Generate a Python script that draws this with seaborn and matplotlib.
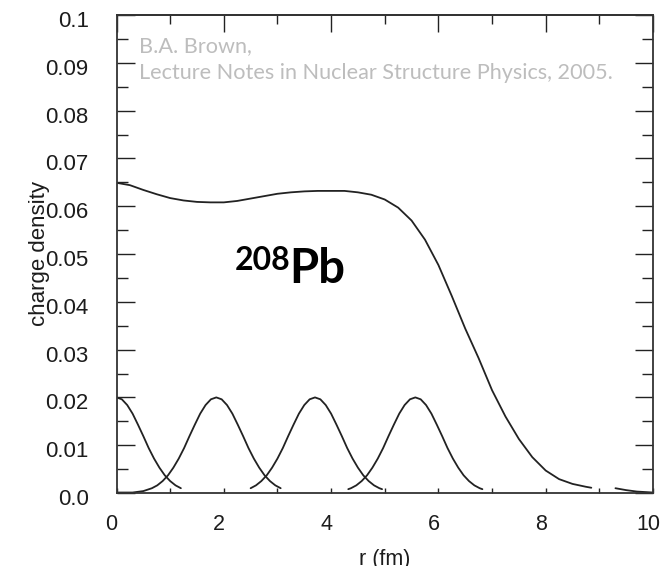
import pandas as pd
import matplotlib
matplotlib.use("Agg")
import matplotlib.pyplot as plt
from matplotlib.ticker import MultipleLocator
from matplotlib.transforms import ScaledTranslation
import seaborn as sns

# Total charge density of 208Pb (e/fm^3) versus radius r (fm)
r_total = [0.0, 0.25, 0.5, 0.75, 1.0, 1.25, 1.5, 1.75, 2.0, 2.25, 2.5, 2.75,
           3.0, 3.25, 3.5, 3.75, 4.0, 4.25, 4.5, 4.75, 5.0, 5.25, 5.5, 5.75,
           6.0, 6.25, 6.5, 6.75, 7.0, 7.25, 7.5, 7.75, 8.0, 8.25, 8.5, 8.75, 8.85]
rho_total = [0.0649, 0.0644, 0.0634, 0.0625, 0.0617, 0.0612, 0.0609, 0.0608,
             0.0608, 0.0611, 0.0616, 0.0621, 0.0626, 0.0629, 0.0631, 0.0632,
             0.0632, 0.0632, 0.0629, 0.0624, 0.0614, 0.0597, 0.0570, 0.0530,
             0.0477, 0.0412, 0.0344, 0.0282, 0.0215, 0.0160, 0.0113, 0.0075,
             0.0047, 0.0029, 0.0019, 0.0013, 0.0011]

# Outer tail of the total density
r_tail = [9.3, 9.5, 9.7, 10.0]
rho_tail = [0.0010, 0.0006, 0.0003, 0.0001]

# Contributions of individual s-shells
r_s1 = [0.0, 0.1, 0.2, 0.3, 0.4, 0.5, 0.6, 0.7, 0.8, 0.9, 1.0, 1.1, 1.2]
rho_s1 = [0.0200, 0.0196, 0.0184, 0.0166, 0.0143, 0.0119, 0.0094, 0.0072,
          0.0053, 0.0037, 0.0025, 0.0016, 0.0010]

r_s2 = [0.0, 0.3, 0.5, 0.66, 0.76, 0.86, 0.96, 1.06, 1.16, 1.26, 1.36, 1.46,
        1.56, 1.66, 1.76, 1.86, 1.96, 2.06, 2.16, 2.26, 2.36, 2.46, 2.56,
        2.66, 2.76, 2.86, 2.96, 3.06]
rho_s2 = [0.0001, 0.0001, 0.0004, 0.0010, 0.0016, 0.0025, 0.0037, 0.0053,
          0.0072, 0.0094, 0.0119, 0.0143, 0.0166, 0.0184, 0.0196, 0.0200,
          0.0196, 0.0184, 0.0166, 0.0143, 0.0119, 0.0094, 0.0072, 0.0053,
          0.0037, 0.0025, 0.0016, 0.0010]

r_s3 = [2.50, 2.60, 2.70, 2.80, 2.90, 3.00, 3.10, 3.20, 3.30, 3.40, 3.50,
        3.60, 3.70, 3.80, 3.90, 4.00, 4.10, 4.20, 4.30, 4.40, 4.50, 4.60,
        4.70, 4.80, 4.90, 4.95]
rho_s3 = [0.0010, 0.0016, 0.0025, 0.0037, 0.0053, 0.0072, 0.0094, 0.0119,
          0.0143, 0.0166, 0.0184, 0.0196, 0.0200, 0.0196, 0.0184, 0.0166,
          0.0143, 0.0119, 0.0094, 0.0072, 0.0053, 0.0037, 0.0025, 0.0016,
          0.0010, 0.0008]

r_s4 = [4.32, 4.37, 4.47, 4.57, 4.67, 4.77, 4.87, 4.97, 5.07, 5.17, 5.27,
        5.37, 5.47, 5.57, 5.67, 5.77, 5.87, 5.97, 6.07, 6.17, 6.27, 6.37,
        6.47, 6.57, 6.67, 6.77, 6.82]
rho_s4 = [0.0008, 0.0010, 0.0016, 0.0025, 0.0037, 0.0053, 0.0072, 0.0094,
          0.0119, 0.0143, 0.0166, 0.0184, 0.0196, 0.0200, 0.0196, 0.0184,
          0.0166, 0.0143, 0.0119, 0.0094, 0.0072, 0.0053, 0.0037, 0.0025,
          0.0016, 0.0010, 0.0008]

x_ticks = [0, 2, 4, 6, 8, 10]
x_tick_labels = ["0", "2", "4", "6", "8", "10"]
y_ticks = [0.0, 0.01, 0.02, 0.03, 0.04, 0.05, 0.06, 0.07, 0.08, 0.09, 0.1]
y_tick_labels = ["0.0", "0.01", "0.02", "0.03", "0.04", "0.05", "0.06",
                 "0.07", "0.08", "0.09", "0.1"]

curves = [("total", r_total, rho_total), ("tail", r_tail, rho_tail),
          ("1s", r_s1, rho_s1), ("2s", r_s2, rho_s2),
          ("3s", r_s3, rho_s3), ("4s", r_s4, rho_s4)]
df = pd.concat([pd.DataFrame({"r": r, "rho": rho, "curve": name})
                for name, r, rho in curves], ignore_index=True)

sns.set_style("ticks")
plt.rcParams["font.family"] = ["Liberation Sans", "DejaVu Sans"]

fig = plt.figure(figsize=(6.72, 5.66), dpi=100)
ax = fig.add_axes([116.5 / 672, 73 / 566, 536.5 / 672, 478 / 566])

sns.lineplot(data=df, x="r", y="rho", units="curve", estimator=None,
             sort=False, color="#222222", linewidth=1.3, ax=ax, legend=False)

ax.set_xlim(0, 10)
ax.set_ylim(0, 0.1)

for s in ax.spines.values():
    s.set_color("#333333")
    s.set_linewidth(1.3)

ink = "#1c1c1c"
ax.set_xticks(x_ticks, x_tick_labels)
ax.xaxis.set_minor_locator(MultipleLocator(1))
ax.set_yticks(y_ticks, y_tick_labels)
ax.yaxis.set_minor_locator(MultipleLocator(0.005))

ax.tick_params(axis="x", which="both", direction="in", length=3.6, width=1,
               color="#222222", top=False, pad=15, labelsize=15.5,
               labelcolor=ink)
ax.tick_params(axis="y", which="major", direction="in", length=13, width=1,
               color="#222222", left=True, right=True, pad=20, labelsize=16,
               labelcolor=ink)
ax.tick_params(axis="y", which="minor", direction="in", length=7.8, width=1,
               color="#222222", left=True, right=True)

top = ax.secondary_xaxis("top")
top.set_xticks(x_ticks)
top.xaxis.set_minor_locator(MultipleLocator(1))
top.tick_params(which="major", direction="in", length=12.2, width=1,
                color="#222222", labeltop=False)
top.tick_params(which="minor", direction="in", length=6.5, width=1,
                color="#222222")
top.spines["top"].set_color("#333333")
top.spines["top"].set_linewidth(1.3)

for lbl in ax.get_xticklabels():
    lbl.set_transform(lbl.get_transform()
                      + ScaledTranslation(-0.05, 0, fig.dpi_scale_trans))
for lbl in ax.get_yticklabels():
    lbl.set_transform(lbl.get_transform()
                      + ScaledTranslation(0, -0.04, fig.dpi_scale_trans))

ax.set_xlabel("r (fm)", fontsize=15.5, color=ink)
ax.xaxis.set_label_coords(0.5, -0.118)
ax.set_ylabel("charge density", fontsize=16, color=ink)
ax.yaxis.set_label_coords(-0.124, 0.5)

note_font = ["Lato", "DejaVu Sans"]
ax.text(0.042, 0.9226, "B.A. Brown,", transform=ax.transAxes,
        family=note_font, fontsize=15.6, color="#bdbdbd", va="baseline")
ax.text(0.042, 0.866, "Lecture Notes in Nuclear Structure Physics, 2005.",
        transform=ax.transAxes, family=note_font, fontsize=15.6,
        color="#bdbdbd", va="baseline")

ax.text(0.221, 0.4665, "208", transform=ax.transAxes, family=note_font,
        fontweight="bold", fontsize=23, color="black", va="baseline")
ax.text(0.3215, 0.439, "Pb", transform=ax.transAxes, family=note_font,
        fontweight="bold", fontsize=34, color="black", va="baseline")

fig.savefig("out.png", dpi=100)
